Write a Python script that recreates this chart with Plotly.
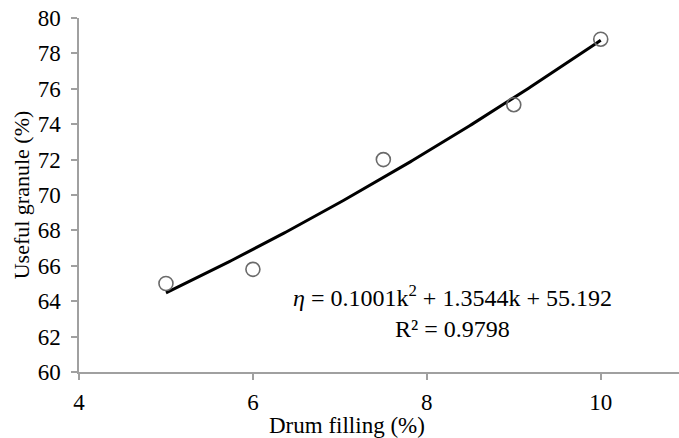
import numpy as np
import plotly.graph_objects as go

# Measured data
drum_filling = [5, 6, 7.5, 9, 10]
useful_granule = [65.0, 65.8, 72.0, 75.1, 78.8]

# Quadratic trendline coefficients
coef_a, coef_b, coef_c = 0.1001, 1.3544, 55.192
r_squared = 0.9798

x_ticks = [4, 6, 8, 10]
y_ticks = [60, 62, 64, 66, 68, 70, 72, 74, 76, 78, 80]

k = np.linspace(min(drum_filling), max(drum_filling), 200)
eta = coef_a * k**2 + coef_b * k + coef_c

serif = "Liberation Serif, Times New Roman, serif"
tick_font = dict(family=serif, size=23, color="#000000")
title_font = dict(family=serif, size=23, color="#000000")
ytitle_font = dict(family=serif, size=22, color="#000000")
note_font = dict(family=serif, size=24, color="#000000")

fig = go.Figure()
fig.add_trace(go.Scatter(
    x=k, y=eta, mode="lines",
    line=dict(color="#000000", width=3),
    hoverinfo="skip", showlegend=False,
))
fig.add_trace(go.Scatter(
    x=drum_filling, y=useful_granule, mode="markers",
    marker=dict(symbol="circle-open", size=14, color="#6a6a6a", line=dict(width=1.6)),
    showlegend=False,
))

# Trendline equation
fig.add_annotation(
    x=8.3, y=63.4, xref="x", yref="y",
    text=f"<i>η</i> = {coef_a}k<sup>2</sup> + {coef_b}k + {coef_c}<br>R² = {r_squared}",
    showarrow=False, font=note_font, align="center",
)

# X axis title
fig.add_annotation(
    x=0.447, y=-0.15, xref="paper", yref="paper",
    text="Drum filling (%)", showarrow=False, font=title_font,
    xanchor="center", yanchor="middle",
)

fig.update_layout(
    width=679, height=438,
    margin=dict(l=79, r=0, t=18, b=66),
    paper_bgcolor="#ffffff", plot_bgcolor="#ffffff",
    font=tick_font,
)
fig.update_xaxes(
    range=[4, 10.9], tickvals=x_ticks, ticks="outside", ticklen=6, tickwidth=1.5,
    tickcolor="#a0a0a0", showline=True, linecolor="#a0a0a0", linewidth=1.5,
    showgrid=False, zeroline=False, tickfont=tick_font, ticklabelstandoff=3,
)
fig.update_yaxes(
    range=[60, 80], tickvals=y_ticks, ticks="outside", ticklen=6, tickwidth=1.5,
    tickcolor="#a0a0a0", showline=True, linecolor="#a0a0a0", linewidth=1.5,
    showgrid=False, zeroline=False, tickfont=tick_font, ticklabelstandoff=6,
    title=dict(text="Useful granule (%)", font=ytitle_font, standoff=2),
)

fig.write_html("out.html")
